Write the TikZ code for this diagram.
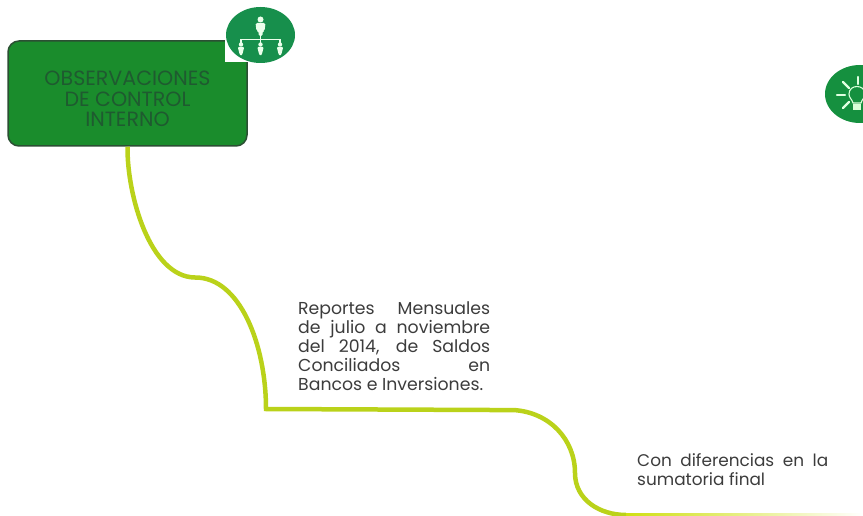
\documentclass[tikz,border=0pt]{standalone}
\usepackage{fontspec}
\setmainfont{Poppins}
\usetikzlibrary{shapes.geometric}
\definecolor{boxgreen}{HTML}{1A8C2C}
\definecolor{boxedge}{HTML}{2B4F33}
\definecolor{titlecol}{HTML}{1F5A30}
\definecolor{icongreen}{HTML}{178F4C}
\definecolor{bulbgreen}{HTML}{15903F}
\definecolor{lime}{HTML}{BAD21A}
\definecolor{bodytext}{HTML}{3C3C3C}
\tikzset{
  titlebox/.style={draw=boxedge,line width=1.5pt,fill=boxgreen,rounded corners=11pt,minimum width=239pt,minimum height=105pt,inner sep=0pt,align=center,text=titlecol,font=\fontsize{20.6}{20.5}\selectfont},
  limeline/.style={draw=lime,line width=4.5pt,line join=miter},
  bodynote/.style={inner sep=0pt,anchor=north west,align=left,text=bodytext,font=\fontsize{17.3}{19}\selectfont},
  iconline/.style={draw=white!92!green,line width=1.2pt},
  raystroke/.style={draw=white!88!green,line width=2.4pt,line cap=round},
}
\begin{document}
\begin{tikzpicture}[x=1pt,y=-1pt]
\useasboundingbox (0,0) rectangle (863,516);
\clip (0,0) rectangle (863,516);

% title box and its notch
\node[titlebox] (title) at (127.5,93.5) {\rule{0pt}{26pt}OBSERVACIONES\\DE CONTROL\\INTERNO};
\fill[white] (225,39.5) rectangle (248,62.5);

% organisation icon
\node[ellipse,fill=icongreen,minimum width=69pt,minimum height=56pt,inner sep=0pt] (orgicon) at (260.5,35) {};
\fill[white!92!green] (260.5,19.5) circle (3pt);
\fill[white!92!green,rounded corners=1.5pt] (255.5,23) -- (265.5,23) -- (264.5,31) -- (262.5,31) -- (262.5,36) -- (258.5,36) -- (258.5,31) -- (256.5,31) -- cycle;
\draw[iconline] (260.5,36) -- (260.5,46);
\draw[iconline] (241,44) -- (241,39.5) -- (280,39.5) -- (280,44);
\foreach \px in {241,260.5,280}{
  \fill[white!92!green] (\px,44.5) circle (2.2pt);
  \fill[white!92!green,rounded corners=1pt] (\px-3.2,47) -- (\px+3.2,47) -- (\px+1.5,54) -- (\px,56) -- (\px-1.5,54) -- cycle;
}

% bulb icon
\node[ellipse,fill=bulbgreen,minimum width=70pt,minimum height=58pt,inner sep=0pt] (bulbicon) at (860,94) {};
\draw[raystroke] (858,77) -- (858,84);
\draw[raystroke] (837,95) -- (845,95);
\draw[raystroke] (843,82) -- (849,88);
\draw[raystroke] (843,108) -- (849,102);
\draw[white!85!green,line width=1.1pt] (853,103) .. controls (852,99) and (849,98) .. (849,94) .. controls (849,84) and (865,84) .. (865,94) .. controls (865,98) and (862,99) .. (861,103) -- cycle;
\fill[white!85!green] (853,104) rectangle (861,110);

% notes
\node[bodynote] (noteA) at (298,301) {\makebox[192pt][s]{Reportes Mensuales}\\\makebox[192pt][s]{de julio a noviembre}\\\makebox[192pt][s]{del 2014, de Saldos}\\\makebox[192pt][s]{Conciliados en}\\Bancos e Inversiones.};
\node[bodynote,font=\fontsize{16.9}{19.5}\selectfont] (noteB) at (637,453) {\makebox[191pt][s]{Con diferencias en la}\\sumatoria final};

% connector
\coordinate (cornerA) at (266,409);
\coordinate (bend1) at (195,277.5);
\coordinate (bend2) at (513,410);
\coordinate (bend3) at (575,473);
\coordinate (lowEnd) at (626,515);
\coordinate (fadeEnd) at (863,515);
\draw[limeline] (title.south) .. controls (127,195) and (150,277) .. (bend1)
  .. controls (240,277) and (266,345) .. (cornerA)
  -- (490,410) -- (bend2)
  .. controls (550,412) and (575,440) .. (bend3)
  .. controls (575,500) and (600,515) .. (lowEnd);
\shade[left color=lime!70!yellow,right color=white] ([yshift=-1.5pt]lowEnd) rectangle ([yshift=1.5pt]fadeEnd);
\end{tikzpicture}
\end{document}
